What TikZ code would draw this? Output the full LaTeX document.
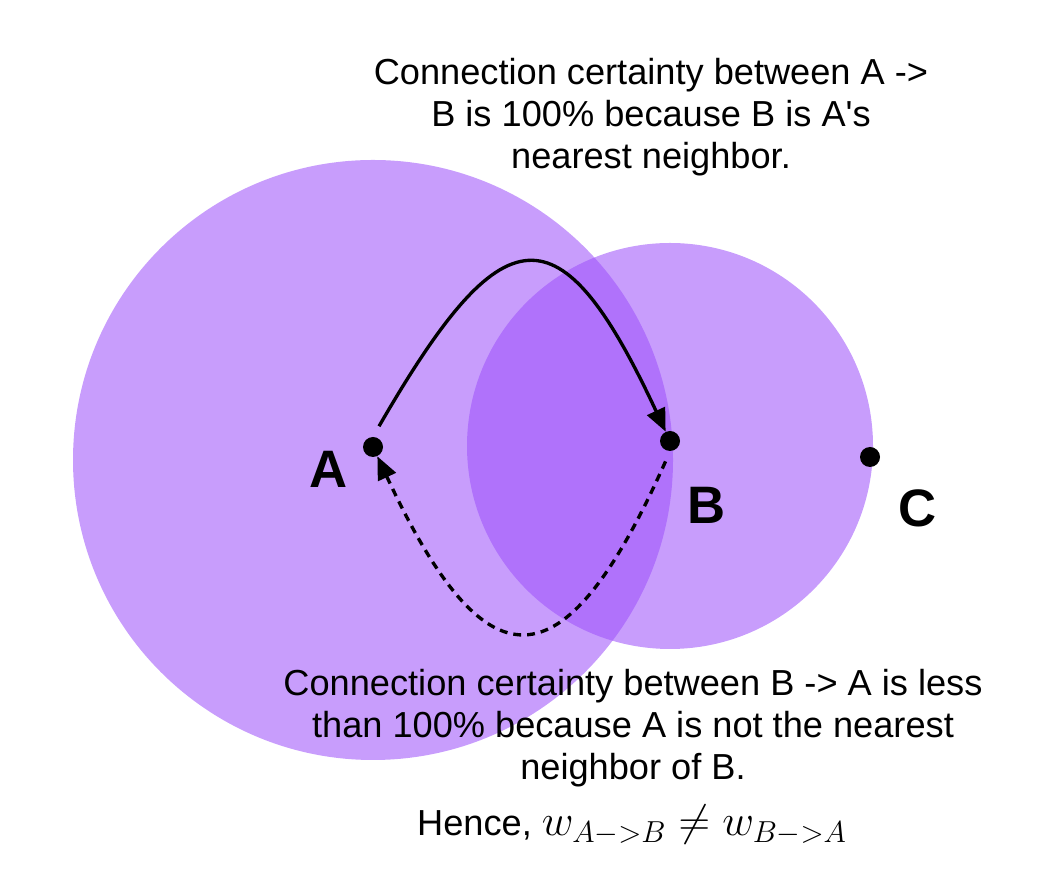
\documentclass[tikz,border=0pt]{standalone}
\usepackage{fontspec}
\setmainfont{Liberation Sans}
\usetikzlibrary{arrows.meta,positioning}
\definecolor{lav}{RGB}{157,80,250}
\begin{document}
\begin{tikzpicture}[x=0.02cm,y=0.02cm,line join=round,line cap=butt,
	dot/.style={circle,fill=black,inner sep=0pt,minimum size=0.4cm},
	lab/.style={font=\fontsize{30}{36}\selectfont\bfseries},
	note/.style={align=center,inner sep=0pt,font=\fontsize{20.6}{24}\selectfont},
	link/.style={line width=1.9pt,-{Triangle[length=13pt,width=11pt]}},
	disk/.style={fill=lav,fill opacity=0.56}]
	\useasboundingbox (0,0) rectangle (1060,888);
	\fill[disk] (373,428) circle (300);
	\fill[disk] (670,442) circle (203);
	\node[dot] (A) at (373,441) {};
	\node[dot] (B) at (670,447) {};
	\node[dot] (C) at (870,431) {};
	\foreach \x/\g/\d in {A/207/50,B/-60/74,C/-47/70}\path (\x) +(\g:\d) node[lab] {\x};
	\draw[link,shorten <=0.24cm] (A.north) .. controls +(60:261) and +(115:261) .. (B);
	\draw[link,dash pattern=on 4.5pt off 3.4pt,shorten <=0.22cm] (B.south) .. controls +(246:265) and +(295:265) .. (A);
	\node[note] (top) at (651,771) {Connection certainty between A ->\\B is 100\% because B is A\textquotesingle s\\nearest neighbor.};
	\node[note] (bot) at (633,160) {Connection certainty between B -> A is less\\than 100\% because A is not the nearest\\neighbor of B.};
	\node[note] (hence) at (632,63) {Hence, {\fontsize{24}{24}\selectfont$w_{A->B} \neq w_{B->A}$}};
\end{tikzpicture}
\end{document}
